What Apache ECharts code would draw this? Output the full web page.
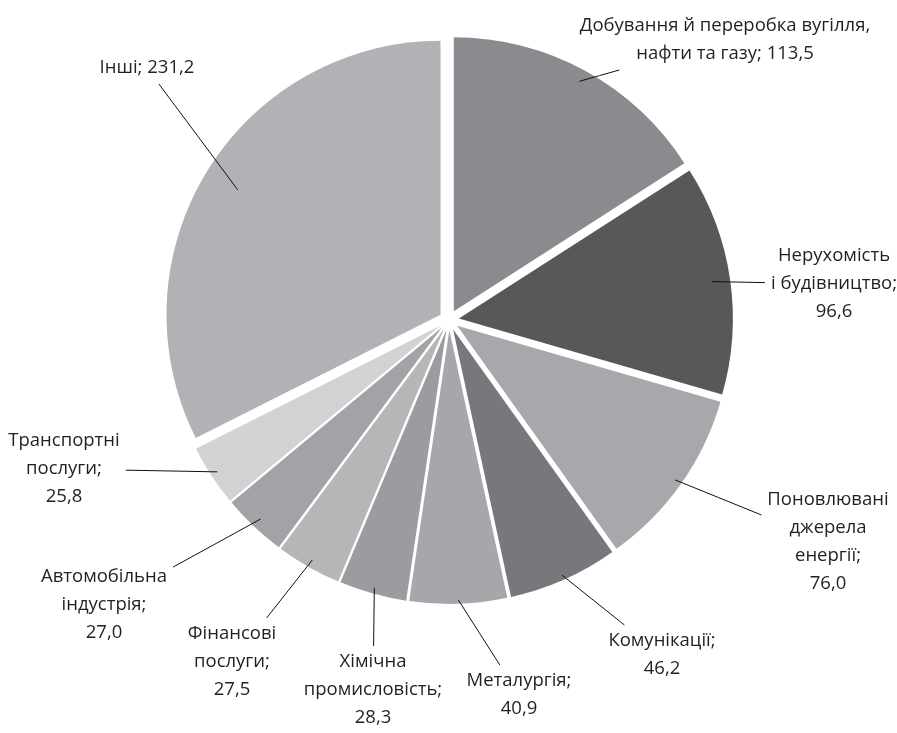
<!DOCTYPE html>
<html><head><meta charset="utf-8">
<script src="https://cdn.jsdelivr.net/npm/echarts@6/dist/echarts.min.js"></script>
<style>html,body{margin:0;padding:0;background:#fff}#chart{width:897px;height:733px}</style>
</head><body><div id="chart"></div>
<script>
// ---- data ----
const categories = [
  'Добування й переробка вугілля,\nнафти та газу',
  'Нерухомість\nі будівництво',
  'Поновлювані\nджерела\nенергії',
  'Комунікації',
  'Металургія',
  'Хімічна\nпромисловість',
  'Фінансові\nпослуги',
  'Автомобільна\nіндустрія',
  'Транспортні\nпослуги',
  'Інші'
];
const values = [113.5, 96.6, 76.0, 46.2, 40.9, 28.3, 27.5, 27.0, 25.8, 231.2];
const valueSeparators = [' ', '\n', '\n', '\n', '\n', '\n', '\n', '\n', '\n', ' '];

// ---- style / layout ----
const colors = ['#8a8b8e', '#58585a', '#a7a8ab', '#77787b', '#a6a7aa', '#9b9c9f', '#b5b6b8', '#a2a3a6', '#d1d2d3', '#b1b2b5'];
const labelCenters = [[725, 40], [834, 284], [828, 542], [662, 655], [519, 695], [373, 690], [232, 662], [104, 605], [64, 469], [147, 68]];
const leaderInset = [12, 18, 7, 5, 4, 6, 8, 10, 7, 36];   // px inside the slice edge where each leader starts
const pieCenter = [449, 320];
const outerR = 274;
const explode = 10;

const fmt = v => v.toFixed(1).replace('.', ',');

const visibleData = categories.map((n, i) => ({ name: n, value: values[i], selected: true, itemStyle: { color: colors[i] } }));
const labelData = categories.map((n, i) => ({ name: n, value: values[i] }));

function placeLabel(params) {
  const i = params.dataIndex;
  const c = labelCenters[i];
  const r = params.labelRect;
  const anchorX = params.align === 'left' ? r.x : (params.align === 'right' ? r.x + r.width : r.x + r.width / 2);
  const out = { align: 'center', verticalAlign: 'middle', dx: c[0] - anchorX, dy: c[1] - (r.y + r.height / 2) };
  const lp = params.labelLinePoints;
  if (lp && lp.length) {
    // point along the slice's mid-angle, a little inside the exploded slice edge
    const ux = lp[0][0] - pieCenter[0], uy = lp[0][1] - pieCenter[1];
    const len = Math.hypot(ux, uy);
    const k = (explode + outerR - leaderInset[i]) / len;
    const s = [pieCenter[0] + ux * k, pieCenter[1] + uy * k];
    // end where the segment towards the label centre meets the label box
    const w = r.width / 2, h = r.height / 2 + 2;
    const vx = s[0] - c[0], vy = s[1] - c[1];
    const t = Math.min(Math.abs(vx) > 0 ? w / Math.abs(vx) : Infinity, Math.abs(vy) > 0 ? h / Math.abs(vy) : Infinity);
    const e = [c[0] + vx * t, c[1] + vy * t];
    out.labelLinePoints = [s, [(s[0] + e[0]) / 2, (s[1] + e[1]) / 2], e];
  }
  return out;
}

const chart = echarts.init(document.getElementById('chart'), null, { renderer: 'canvas' });
chart.setOption({
  backgroundColor: '#ffffff',
  animation: false,
  series: [
    {
      type: 'pie',
      z: 2,
      center: pieCenter,
      radius: outerR,
      startAngle: 90,
      clockwise: true,
      selectedMode: 'multiple',
      selectedOffset: explode,
      silent: true,
      label: { show: false },
      labelLine: { show: false },
      emphasis: { disabled: true },
      itemStyle: { borderWidth: 0 },
      data: visibleData
    },
    {
      type: 'pie',
      z: 6,
      center: pieCenter,
      radius: outerR - 20,
      startAngle: 90,
      clockwise: true,
      silent: true,
      avoidLabelOverlap: false,
      emphasis: { disabled: true },
      itemStyle: { color: 'rgba(0,0,0,0)', borderWidth: 0 },
      label: {
        show: true,
        position: 'outside',
        fontFamily: 'Open Sans',
        fontSize: 18.5,
        lineHeight: 28,
        color: '#231f20',
        padding: [0, 6],
        formatter: p => p.name + ';' + valueSeparators[p.dataIndex] + fmt(p.value)
      },
      labelLine: { show: true, length: 10, length2: 0, lineStyle: { color: '#111', width: 1 } },
      labelLayout: placeLabel,
      data: labelData
    }
  ]
});
</script>
</body></html>
